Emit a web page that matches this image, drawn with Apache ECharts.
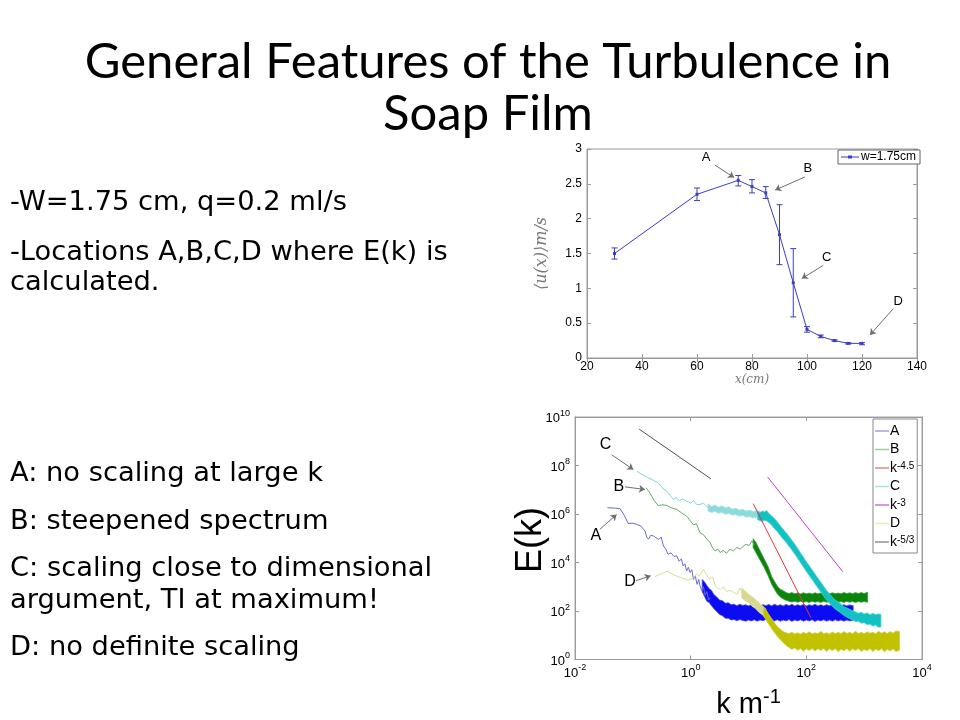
<!DOCTYPE html>
<html><head><meta charset="utf-8">
<script src="https://cdn.jsdelivr.net/npm/echarts@6/dist/echarts.min.js"></script>
<style>html,body{margin:0;padding:0;background:#fff}#c{width:960px;height:720px}</style>
</head><body><div id="c"></div>
<script>
// ---------------- Top chart: mean velocity vs position ----------------
const posX    = [30, 60, 75, 80, 85, 90, 95, 100, 105, 110, 115, 120];
const meanU   = [1.50, 2.35, 2.55, 2.46, 2.37, 1.77, 1.08, 0.41, 0.31, 0.25, 0.21, 0.21];
const errLow  = [1.42, 2.26, 2.47, 2.37, 2.29, 1.34, 0.59, 0.37, 0.29, 0.24, 0.20, 0.19];
const errHigh = [1.58, 2.44, 2.62, 2.56, 2.46, 2.20, 1.57, 0.45, 0.33, 0.26, 0.22, 0.22];
const topXTicks = [20, 40, 60, 80, 100, 120, 140];
const topYTicks = [0, 0.5, 1, 1.5, 2, 2.5, 3];
const topLetters = ['A', 'B', 'C', 'D'];
const topLabelAt = [[63.3, 2.88], [100.3, 2.72], [107.2, 1.45], [133.2, 0.81]];
const topArrowFrom = [[66.5, 2.77], [99.3, 2.60], [105.9, 1.33], [131.4, 0.71]];
const topArrowTo = [[73.5, 2.59], [88.4, 2.41], [98.1, 1.14], [122.9, 0.33]];

// ---------------- Bottom chart: spectra E(k), values as log10 ----------------
const kTickExp = [-2, 0, 2, 4];
const eTickExp = [0, 2, 4, 6, 8, 10];

const A_logk = [-1.44,-1.30,-1.22,-1.15,-1.08,-1.00,-0.93,-0.86,-0.79,-0.76,-0.73,-0.69,-0.65,-0.60,-0.55,-0.51,-0.47,-0.43,-0.39,-0.34,-0.29,-0.24,-0.20,-0.16,-0.13,-0.10,-0.07,-0.04,-0.01,0.02,0.05,0.08,0.11,0.14,0.16,0.19,0.22,0.25,0.28,0.31,0.34];
const A_logE = [6.26,6.24,6.22,5.95,5.61,5.62,5.57,5.50,5.30,5.05,4.96,5.12,5.10,5.02,4.95,5.05,4.68,4.55,4.34,4.40,4.25,4.27,4.05,4.15,3.86,3.95,3.65,3.80,3.59,3.70,3.30,3.45,3.10,3.30,3.05,2.85,3.00,2.65,2.80,2.45,2.55];
// noisy bands: [log k, log E low, log E high]
const A_band = [[0.20,2.80,3.30],[0.24,2.60,3.20],[0.28,2.40,3.05],[0.32,2.35,2.92],[0.36,2.22,2.85],[0.40,2.10,2.68],[0.45,1.98,2.58],[0.50,1.86,2.45],[0.55,1.80,2.42],[0.60,1.70,2.32],[0.65,1.70,2.34],[0.70,1.63,2.26],[0.75,1.65,2.28],[0.80,1.60,2.22],[0.85,1.65,2.28],[0.90,1.61,2.23],[0.95,1.58,2.26],[1.00,1.63,2.21],[1.05,1.59,2.27],[1.10,1.64,2.22],[1.15,1.58,2.28],[1.20,1.63,2.21],[1.25,1.60,2.26],[1.30,1.65,2.22],[1.35,1.57,2.27],[1.40,1.63,2.21],[1.45,1.59,2.28],[1.50,1.64,2.22],[1.55,1.58,2.26],[1.60,1.63,2.21],[1.65,1.59,2.27],[1.70,1.65,2.22],[1.75,1.57,2.28],[1.80,1.63,2.21],[1.85,1.59,2.26],[1.90,1.64,2.22],[1.95,1.58,2.27],[2.00,1.63,2.21],[2.05,1.59,2.26],[2.10,1.64,2.22],[2.15,1.57,2.28],[2.20,1.63,2.21],[2.25,1.59,2.26],[2.30,1.64,2.21],[2.35,1.58,2.26],[2.40,1.63,2.22],[2.45,1.58,2.27],[2.50,1.64,2.21],[2.55,1.59,2.25],[2.60,1.63,2.21],[2.65,1.58,2.26],[2.70,1.63,2.21],[2.75,1.59,2.25],[2.81,1.62,2.22]];

const B_logk = [-0.77,-0.70,-0.63,-0.56,-0.48,-0.41,-0.33,-0.24,-0.16,-0.07,0.00,0.05,0.10,0.16,0.22,0.28,0.33,0.38,0.42,0.47,0.51,0.56,0.62,0.68,0.74,0.80,0.86,0.91,0.96,1.01,1.06,1.10];
const B_logE = [7.08,6.85,6.55,6.35,6.38,6.35,6.25,6.19,6.05,5.91,5.70,5.55,5.60,5.23,5.15,4.96,4.85,4.60,4.48,4.55,4.41,4.50,4.38,4.55,4.48,4.62,4.55,4.68,4.75,4.70,4.89,4.72];
const B_band = [[1.08,4.62,4.98],[1.13,4.40,4.82],[1.20,4.10,4.48],[1.27,3.80,4.15],[1.34,3.45,3.82],[1.40,3.10,3.42],[1.45,2.90,3.22],[1.50,2.70,3.02],[1.55,2.58,2.90],[1.60,2.50,2.84],[1.65,2.44,2.76],[1.70,2.40,2.72],[1.75,2.37,2.76],[1.80,2.40,2.71],[1.85,2.36,2.75],[1.90,2.40,2.70],[1.95,2.36,2.75],[2.00,2.39,2.71],[2.05,2.35,2.74],[2.10,2.40,2.70],[2.15,2.36,2.75],[2.20,2.39,2.71],[2.25,2.35,2.74],[2.30,2.40,2.70],[2.35,2.36,2.75],[2.40,2.39,2.71],[2.45,2.35,2.75],[2.50,2.40,2.71],[2.55,2.36,2.74],[2.60,2.39,2.71],[2.65,2.35,2.76],[2.70,2.40,2.72],[2.75,2.36,2.75],[2.80,2.39,2.71],[2.85,2.35,2.76],[2.90,2.39,2.72],[2.95,2.36,2.76],[3.00,2.39,2.72],[3.06,2.36,2.77]];

const C_logk = [-0.93,-0.83,-0.73,-0.65,-0.56,-0.48,-0.41,-0.35,-0.30,-0.25,-0.20,-0.14,-0.07,0.00,0.05,0.10,0.16,0.22,0.28,0.33];
const C_logE = [7.76,7.62,7.49,7.40,7.28,7.05,6.94,6.75,6.60,6.68,6.55,6.62,6.53,6.45,6.55,6.40,6.39,6.45,6.30,6.25];
const C_bandLight = [[0.30,6.12,6.42],[0.36,6.06,6.30],[0.42,6.10,6.38],[0.48,6.03,6.28],[0.54,6.06,6.34],[0.60,5.99,6.26],[0.66,6.02,6.30],[0.72,5.95,6.20],[0.78,5.98,6.24],[0.84,5.91,6.16],[0.90,5.94,6.20],[0.96,5.87,6.12],[1.02,5.90,6.16],[1.08,5.83,6.10],[1.14,5.86,6.14],[1.20,5.80,6.10]];
const C_band = [[1.16,5.76,6.10],[1.20,5.72,6.06],[1.24,5.70,6.12],[1.28,5.74,6.08],[1.31,5.72,6.14],[1.37,5.62,5.98],[1.43,5.45,5.86],[1.49,5.30,5.70],[1.57,5.05,5.45],[1.66,4.80,5.20],[1.75,4.52,4.92],[1.83,4.25,4.65],[1.92,3.92,4.32],[2.01,3.60,4.00],[2.10,3.30,3.70],[2.18,3.02,3.42],[2.27,2.72,3.12],[2.35,2.45,2.85],[2.43,2.25,2.62],[2.50,2.08,2.45],[2.58,1.95,2.32],[2.65,1.82,2.18],[2.72,1.72,2.10],[2.81,1.62,2.00],[2.86,1.56,1.95],[2.90,1.58,1.91],[2.95,1.50,1.95],[3.00,1.52,1.88],[3.05,1.44,1.92],[3.10,1.46,1.85],[3.15,1.38,1.90],[3.20,1.42,1.85],[3.25,1.33,1.88],[3.29,1.35,1.86]];

const D_logk = [-0.62,-0.52,-0.41,-0.30,-0.18,-0.05,0.05,0.10,0.15,0.22,0.27,0.33,0.38,0.43,0.51,0.56,0.62,0.68,0.74,0.80,0.85,0.90];
const D_logE = [3.42,3.52,3.64,3.50,3.38,3.28,3.35,3.52,3.45,3.72,3.50,3.32,3.40,3.02,2.88,3.00,2.80,2.85,2.77,2.70,2.95,2.72];
const D_bandLight = [[0.88,2.55,2.95],[0.94,2.42,2.84],[1.00,2.35,2.70],[1.06,2.20,2.60],[1.12,2.10,2.48],[1.18,1.95,2.35],[1.24,1.85,2.22],[1.30,1.70,2.08]];
const D_band = [[1.26,1.80,2.15],[1.30,1.65,2.05],[1.34,1.50,1.90],[1.38,1.35,1.75],[1.42,1.20,1.62],[1.46,1.08,1.48],[1.50,0.95,1.35],[1.55,0.82,1.25],[1.60,0.70,1.15],[1.65,0.58,1.10],[1.70,0.50,1.06],[1.75,0.42,1.12],[1.80,0.48,1.05],[1.85,0.38,1.10],[1.90,0.46,1.04],[1.95,0.34,1.12],[2.00,0.44,1.06],[2.05,0.38,1.14],[2.10,0.45,1.05],[2.15,0.35,1.10],[2.20,0.44,1.06],[2.25,0.38,1.16],[2.30,0.46,1.06],[2.35,0.33,1.10],[2.40,0.44,1.05],[2.45,0.37,1.13],[2.50,0.45,1.06],[2.55,0.32,1.12],[2.60,0.42,1.06],[2.65,0.36,1.15],[2.70,0.45,1.07],[2.75,0.34,1.12],[2.80,0.44,1.06],[2.85,0.37,1.16],[2.90,0.45,1.07],[2.95,0.33,1.12],[3.00,0.42,1.06],[3.05,0.36,1.14],[3.10,0.45,1.08],[3.15,0.33,1.12],[3.20,0.43,1.06],[3.25,0.36,1.16],[3.30,0.45,1.08],[3.35,0.32,1.14],[3.40,0.42,1.07],[3.45,0.35,1.15],[3.50,0.44,1.08],[3.55,0.33,1.18],[3.61,0.38,1.15]];

const L45_logk = [1.08, 2.08];  const L45_logE = [6.43, 1.72];
const L3_logk  = [1.33, 2.63];  const L3_logE  = [7.53, 3.62];
const L53_logk = [-0.89, 0.35]; const L53_logE = [9.50, 7.45];

const botLetters = ['C', 'B', 'A', 'D'];
const botLabelAt = [[-1.47, 8.85], [-1.24, 7.14], [-1.64, 5.12], [-1.05, 3.21]];
const botArrowFrom = [[-1.365, 8.44], [-1.135, 7.12], [-1.57, 5.37], [-0.945, 3.25]];
const botArrowTo = [[-0.99, 7.83], [-0.79, 7.01], [-1.28, 5.98], [-0.69, 3.45]];

const legendNames = ['A', 'B', 'k^-4.5', 'C', 'k^-3', 'D', 'k^-5/3'];
const legendRich = {'A': 'A', 'B': 'B', 'k^-4.5': 'k{s|-4.5}', 'C': 'C', 'k^-3': 'k{s|-3}', 'D': 'D', 'k^-5/3': 'k{s|-5/3}'};

// ---------------- Slide text ----------------
const titleLines = ['General Features of the Turbulence in', 'Soap Film'];
const topText = ['-W=1.75 cm, q=0.2 ml/s', '-Locations A,B,C,D where E(k) is', 'calculated.'];
const bottomText = ['A: no scaling at large k', 'B: steepened spectrum', 'C: scaling close to dimensional', 'argument, TI at maximum!', 'D: no definite scaling'];
const spectrumYTitle = 'E(k)';

// ---------------- helpers ----------------
const P = v => Math.pow(10, v);
const pts = (lk, le) => lk.map((k, i) => [P(k), P(le[i])]);
const bandData = band => band.map(b => [P(b[0]), P(b[1]), P(b[2])]);
// one polygon per band, drawn through the axes' scales
const bandRender = (fill, edge, lw) => function (params, api) {
  if (params.dataIndexInside !== 0) return null;
  const n = params.dataInsideLength;
  const top = [], bot = [];
  for (let i = 0; i < n; i++) {
    top.push(api.coord([api.value(0, i), api.value(2, i)]));
    bot.push(api.coord([api.value(0, i), api.value(1, i)]));
  }
  return {type: 'polygon', shape: {points: top.concat(bot.reverse())},
    style: {fill: fill, stroke: edge, lineWidth: lw}};
};
const FONT = 'Liberation Sans';
const supRich = {
  b: {fontSize: 13, fontFamily: FONT, color: '#000', verticalAlign: 'bottom'},
  s: {fontSize: 9, fontFamily: FONT, color: '#000', verticalAlign: 'top', padding: [0, 0, 7, 0]}
};
const expFmt = v => '{b|10}{s|' + Math.round(Math.log10(v)) + '}';

const chart = echarts.init(document.getElementById('c'), null, {renderer: 'canvas'});

const graphics = [];
titleLines.forEach((t, i) => graphics.push({type: 'text', x: 488, y: [62, 114][i],
  style: {text: t, font: '49px Lato', fill: '#000', align: 'center', verticalAlign: 'middle'}}));
topText.forEach((t, i) => graphics.push({type: 'text', x: 10, y: [203, 253, 283][i],
  style: {text: t, font: '27.3px "DejaVu Sans"', fill: '#000', align: 'left', verticalAlign: 'middle'}}));
bottomText.forEach((t, i) => graphics.push({type: 'text', x: 10, y: [474, 522, 569, 601, 648][i],
  style: {text: t, font: '27.3px "DejaVu Sans"', fill: '#000', align: 'left', verticalAlign: 'middle'}}));
graphics.push({type: 'text', x: 531, y: 540, rotation: Math.PI / 2,
  style: {text: spectrumYTitle, font: '36px "Liberation Sans"', fill: '#000', align: 'center', verticalAlign: 'middle'}});

const frameAxis = {
  axisLine: {show: true, lineStyle: {color: '#9a9a9a', width: 1}},
  axisTick: {show: true, inside: true, length: 4, lineStyle: {color: '#9a9a9a'}},
  splitLine: {show: false}
};

const topMean = posX.map((x, i) => [x, meanU[i]]);
const topErr = posX.map((x, i) => [x, errLow[i], errHigh[i]]);
const blueTop = '#3c3cc8';

const arrowML = (from, to, conv) => ({
  silent: true, symbol: ['none', 'arrow'], symbolSize: 6, animation: false,
  label: {show: false}, lineStyle: {color: '#6e6e6e', width: 1, type: 'solid'},
  emphasis: {disabled: true},
  data: from.map((f, i) => [{coord: conv(f)}, {coord: conv(to[i])}])
});
const letterMP = (letters, at, conv, size) => ({
  silent: true, symbol: 'circle', symbolSize: 1, animation: false,
  itemStyle: {color: 'rgba(0,0,0,0)'},
  label: {show: true, position: 'inside', formatter: '{b}', color: '#000', fontSize: size, fontFamily: FONT},
  data: letters.map((l, i) => ({name: l, coord: conv(at[i])}))
});
const idT = p => p;
const logC = p => [P(p[0]), P(p[1])];
const bandSeries = (name, band, fill, edge, lw, legendColor) => ({
  type: 'custom', name: name, xAxisIndex: 2, yAxisIndex: 2, data: bandData(band),
  encode: {x: 0, y: [1, 2]}, renderItem: bandRender(fill, edge, lw), itemStyle: {color: legendColor}
});

const option = {
  animation: false,
  backgroundColor: '#fff',
  graphic: graphics,
  grid: [
    {left: 587, top: 149, width: 330, height: 209, show: true, borderColor: '#9a9a9a', borderWidth: 1, backgroundColor: 'transparent'},
    {left: 575, top: 417, width: 347, height: 244, show: true, borderColor: '#a8a8a8', borderWidth: 1, backgroundColor: 'transparent'}
  ],
  legend: [
    {show: true, data: ['w=1.75cm'], left: 838, top: 150, orient: 'horizontal',
      backgroundColor: '#fff', borderColor: '#666', borderWidth: 1, padding: [1, 4, 1, 3],
      itemWidth: 18, itemHeight: 3, itemGap: 2,
      icon: 'path://M0,1H7V0H11V1H18V2H11V3H7V2H0Z',
      textStyle: {fontSize: 12, fontFamily: FONT, color: '#000', padding: [0, 0, 0, -3]}},
    {show: true, data: legendNames, left: 873, top: 419, orient: 'vertical',
      backgroundColor: '#fff', borderColor: '#888', borderWidth: 1, padding: [5, 3, 4, 2],
      itemWidth: 14, itemHeight: 1.5, itemGap: 4.5, icon: 'rect',
      formatter: n => legendRich[n],
      textStyle: {fontSize: 14, fontFamily: FONT, color: '#000', padding: [0, 0, 0, -4],
        rich: {s: {fontSize: 10, fontFamily: FONT, color: '#000', verticalAlign: 'top', padding: [0, 0, 4, 0]}}}}
  ],
  xAxis: [
    Object.assign({type: 'value', gridIndex: 0, position: 'bottom', min: topXTicks[0], max: topXTicks[topXTicks.length - 1],
      interval: topXTicks[1] - topXTicks[0],
      axisLabel: {color: '#000', fontSize: 12, fontFamily: FONT, margin: 3},
      name: 'x(cm)', nameLocation: 'middle', nameGap: 13,
      nameTextStyle: {fontFamily: 'DejaVu Serif', fontStyle: 'italic', fontSize: 12, color: '#777'}}, frameAxis),
    Object.assign({type: 'value', gridIndex: 0, position: 'top', min: topXTicks[0], max: topXTicks[topXTicks.length - 1],
      interval: topXTicks[1] - topXTicks[0], axisLabel: {show: false}}, frameAxis),
    Object.assign({type: 'log', logBase: 10, gridIndex: 1, position: 'bottom', min: P(kTickExp[0]), max: P(kTickExp[kTickExp.length - 1]),
      interval: kTickExp[1] - kTickExp[0],
      axisLabel: {formatter: expFmt, rich: supRich, margin: 4},
      minorTick: {show: false},
      name: 'k m{s|-1}', nameLocation: 'middle', nameGap: 28,
      nameTextStyle: {fontSize: 29, fontFamily: FONT, color: '#000',
        rich: {s: {fontSize: 20, fontFamily: FONT, color: '#000', verticalAlign: 'top', padding: [0, 0, 14, 0]}}}}, frameAxis),
    Object.assign({type: 'log', logBase: 10, gridIndex: 1, position: 'top', min: P(kTickExp[0]), max: P(kTickExp[kTickExp.length - 1]),
      interval: kTickExp[1] - kTickExp[0], axisLabel: {show: false}}, frameAxis)
  ],
  yAxis: [
    Object.assign({type: 'value', gridIndex: 0, position: 'left', min: topYTicks[0], max: topYTicks[topYTicks.length - 1],
      interval: topYTicks[1] - topYTicks[0],
      axisLabel: {color: '#000', fontSize: 12, fontFamily: FONT, margin: 5},
      name: '⟨u(x)⟩m/s', nameLocation: 'middle', nameGap: 37,
      nameTextStyle: {fontFamily: 'DejaVu Serif', fontStyle: 'italic', fontSize: 16, color: '#777'}}, frameAxis),
    Object.assign({type: 'value', gridIndex: 0, position: 'right', min: topYTicks[0], max: topYTicks[topYTicks.length - 1],
      interval: topYTicks[1] - topYTicks[0], axisLabel: {show: false}}, frameAxis),
    Object.assign({type: 'log', logBase: 10, gridIndex: 1, position: 'left', min: P(eTickExp[0]), max: P(eTickExp[eTickExp.length - 1]),
      interval: eTickExp[1] - eTickExp[0],
      axisLabel: {formatter: expFmt, rich: supRich, margin: 5},
      minorTick: {show: false}}, frameAxis),
    Object.assign({type: 'log', logBase: 10, gridIndex: 1, position: 'right', min: P(eTickExp[0]), max: P(eTickExp[eTickExp.length - 1]),
      interval: eTickExp[1] - eTickExp[0], axisLabel: {show: false}}, frameAxis)
  ],
  series: [
    // ---- top chart ----
    {type: 'custom', name: 'errorbars', xAxisIndex: 0, yAxisIndex: 0, data: topErr, encode: {x: 0, y: [1, 2]},
      renderItem: function (params, api) {
        const x = api.value(0);
        const lo = api.coord([x, api.value(1)]);
        const hi = api.coord([x, api.value(2)]);
        const w = 3;
        const st = {stroke: blueTop, lineWidth: 1};
        return {type: 'group', children: [
          {type: 'line', shape: {x1: lo[0], y1: lo[1], x2: hi[0], y2: hi[1]}, style: st},
          {type: 'line', shape: {x1: lo[0] - w, y1: lo[1], x2: lo[0] + w, y2: lo[1]}, style: st},
          {type: 'line', shape: {x1: hi[0] - w, y1: hi[1], x2: hi[0] + w, y2: hi[1]}, style: st}
        ]};
      }},
    {type: 'line', name: 'w=1.75cm', xAxisIndex: 0, yAxisIndex: 0, data: topMean,
      symbol: 'rect', symbolSize: 3, showSymbol: true,
      lineStyle: {color: blueTop, width: 1}, itemStyle: {color: blueTop},
      markLine: arrowML(topArrowFrom, topArrowTo, idT),
      markPoint: letterMP(topLetters, topLabelAt, idT, 13)},
    // ---- bottom chart ----
    {type: 'line', name: 'A', xAxisIndex: 2, yAxisIndex: 2, data: pts(A_logk, A_logE), showSymbol: false,
      lineStyle: {color: '#6a6ad8', width: 1}, itemStyle: {color: '#a0a0e0'}},
    bandSeries('A', A_band, '#0c0cf2', '#4646e6', 0.8, '#a0a0e0'),
    {type: 'line', name: 'B', xAxisIndex: 2, yAxisIndex: 2, data: pts(B_logk, B_logE), showSymbol: false,
      lineStyle: {color: '#6ca86c', width: 1}, itemStyle: {color: '#a0cca0'}},
    bandSeries('B', B_band, '#0a840a', '#3a9c3a', 0.8, '#a0cca0'),
    {type: 'line', name: 'k^-4.5', xAxisIndex: 2, yAxisIndex: 2, data: pts(L45_logk, L45_logE), showSymbol: false,
      lineStyle: {color: '#e03a3a', width: 1}, itemStyle: {color: '#e08888'}},
    {type: 'line', name: 'C', xAxisIndex: 2, yAxisIndex: 2, data: pts(C_logk, C_logE), showSymbol: false,
      lineStyle: {color: '#80d8d8', width: 1}, itemStyle: {color: '#a6e2e2'}},
    bandSeries('C', C_bandLight, '#8cdada', '#a8e4e4', 0.8, '#a6e2e2'),
    bandSeries('C', C_band, '#12c2c2', '#48cece', 0.8, '#a6e2e2'),
    {type: 'line', name: 'k^-3', xAxisIndex: 2, yAxisIndex: 2, data: pts(L3_logk, L3_logE), showSymbol: false,
      lineStyle: {color: '#c040c8', width: 1}, itemStyle: {color: '#d070d8'}},
    {type: 'line', name: 'D', xAxisIndex: 2, yAxisIndex: 2, data: pts(D_logk, D_logE), showSymbol: false,
      lineStyle: {color: '#dada98', width: 1}, itemStyle: {color: '#e8e8b8'}},
    bandSeries('D', D_bandLight, '#d8d890', '#e2e2aa', 0.8, '#e8e8b8'),
    bandSeries('D', D_band, '#c2c200', '#cccc3a', 0.8, '#e8e8b8'),
    {type: 'line', name: 'k^-5/3', xAxisIndex: 2, yAxisIndex: 2, data: pts(L53_logk, L53_logE), showSymbol: false,
      lineStyle: {color: '#505050', width: 1}, itemStyle: {color: '#909090'},
      markLine: arrowML(botArrowFrom, botArrowTo, logC),
      markPoint: letterMP(botLetters, botLabelAt, logC, 16)}
  ]
};
chart.setOption(option);
</script>
</body></html>
